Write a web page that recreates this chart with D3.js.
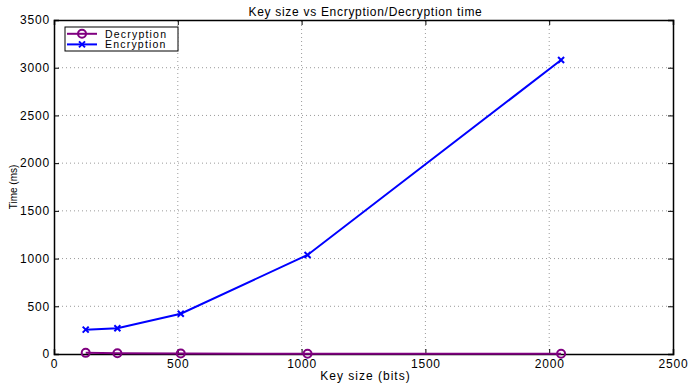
<!DOCTYPE html>
<html>
<head>
<meta charset="utf-8">
<script src="https://cdn.jsdelivr.net/npm/d3@7"></script>
<style>
  html, body { margin: 0; padding: 0; background: #fff; }
  svg { display: block; font-family: "Liberation Sans", Arial, Helvetica, sans-serif; }
</style>
</head>
<body>
<svg id="chart" width="689" height="383"></svg>
<script>
// Key sizes in bits
const keySizes = [128, 256, 512, 1024, 2048];
// Measured times in milliseconds
const decryptionTimes = [12, 8, 5, 3, 2];
const encryptionTimes = [255, 270, 422, 1038, 3080];
// Axis ticks
const xTicks = [0, 500, 1000, 1500, 2000, 2500];
const yTicks = [0, 500, 1000, 1500, 2000, 2500, 3000, 3500];

const series = [
  { name: "Decryption", values: decryptionTimes, color: "#800080", marker: "circle" },
  { name: "Encryption", values: encryptionTimes, color: "#0000ff", marker: "cross" }
];

const svg = d3.select("#chart");
const m = { left: 54, right: 16, top: 20, bottom: 29 };
const W = 689, H = 383;
const x = d3.scaleLinear().domain([0, 2500]).range([m.left, W - m.right]);
const y = d3.scaleLinear().domain([0, 3500]).range([H - m.bottom, m.top]);

// Dotted grid lines
const grid = svg.append("g");
grid.selectAll("line.gx").data(xTicks.slice(1, -1)).join("line")
  .attr("x1", d => x(d)).attr("x2", d => x(d))
  .attr("y1", y(0)).attr("y2", y(3500))
  .attr("stroke", "#9a9a9a").attr("stroke-width", 1).attr("stroke-dasharray", "1,3");
grid.selectAll("line.gy").data(yTicks.slice(1, -1)).join("line")
  .attr("y1", d => y(d)).attr("y2", d => y(d))
  .attr("x1", x(0)).attr("x2", x(2500))
  .attr("stroke", "#9a9a9a").attr("stroke-width", 1).attr("stroke-dasharray", "1,3");

// Axes with inward ticks on all four sides
const fmt = d3.format("d");
const axB = svg.append("g").attr("transform", `translate(0,${y(0)})`)
  .call(d3.axisBottom(x).tickValues(xTicks).tickSize(-5).tickPadding(5).tickFormat(fmt));
const axL = svg.append("g").attr("transform", `translate(${x(0)},0)`)
  .call(d3.axisLeft(y).tickValues(yTicks).tickSize(-5).tickPadding(4).tickFormat(fmt));
const axT = svg.append("g").attr("transform", `translate(0,${y(3500)})`)
  .call(d3.axisTop(x).tickValues(xTicks).tickSize(-5).tickFormat(""));
const axR = svg.append("g").attr("transform", `translate(${x(2500)},0)`)
  .call(d3.axisRight(y).tickValues(yTicks).tickSize(-5).tickFormat(""));
[axB, axL, axT, axR].forEach(a => {
  a.select(".domain").attr("stroke", "#000").attr("stroke-width", 1.5);
  a.selectAll(".tick line").attr("stroke", "#000").attr("stroke-width", 1);
  a.selectAll(".tick text").attr("font-size", 12).attr("letter-spacing", 0.8).attr("fill", "#000")
    .attr("font-family", "'Liberation Sans', Arial, sans-serif");
});

// Series lines and markers
const line = d3.line().x((d, i) => x(keySizes[i])).y(d => y(d));
function drawMarker(g, type, color) {
  if (type === "circle") {
    g.append("circle").attr("r", 4).attr("fill", "none")
      .attr("stroke", color).attr("stroke-width", 2);
  } else {
    g.append("path").attr("d", "M-3,-3L3,3M-3,3L3,-3")
      .attr("stroke", color).attr("stroke-width", 2);
  }
}
series.forEach(s => {
  svg.append("path").datum(s.values)
    .attr("d", line).attr("fill", "none")
    .attr("stroke", s.color).attr("stroke-width", 2);
  s.values.forEach((v, i) => {
    const g = svg.append("g").attr("transform", `translate(${x(keySizes[i])},${y(v)})`);
    drawMarker(g, s.marker, s.color);
  });
});

// Title and axis labels
svg.append("text").attr("x", (x(0) + x(2500)) / 2 + 2).attr("y", 16)
  .attr("text-anchor", "middle").attr("font-size", 12).attr("letter-spacing", 0.7)
  .text("Key size vs Encryption/Decryption time");
svg.append("text").attr("x", (x(0) + x(2500)) / 2 + 2).attr("y", 380)
  .attr("text-anchor", "middle").attr("font-size", 12).attr("letter-spacing", 1)
  .text("Key size (bits)");
svg.append("text").attr("transform", `translate(17,${(y(0) + y(3500)) / 2}) rotate(-90)`)
  .attr("text-anchor", "middle").attr("font-size", 10).text("Time (ms)");

// Legend
const lg = svg.append("g").attr("transform", "translate(65,27)");
lg.append("rect").attr("width", 113).attr("height", 24)
  .attr("fill", "#fff").attr("stroke", "#000").attr("stroke-width", 1);
series.forEach((s, i) => {
  const row = lg.append("g").attr("transform", `translate(0,${6.8 + i * 10.6})`);
  row.append("line").attr("x1", 2).attr("x2", 32).attr("stroke", s.color).attr("stroke-width", 2);
  const mk = row.append("g").attr("transform", "translate(17,0)");
  drawMarker(mk, s.marker, s.color);
  row.append("text").attr("x", 40).attr("y", 3.8).attr("font-size", 10.5)
    .attr("letter-spacing", 1.2).text(s.name);
});
</script>
</body>
</html>
